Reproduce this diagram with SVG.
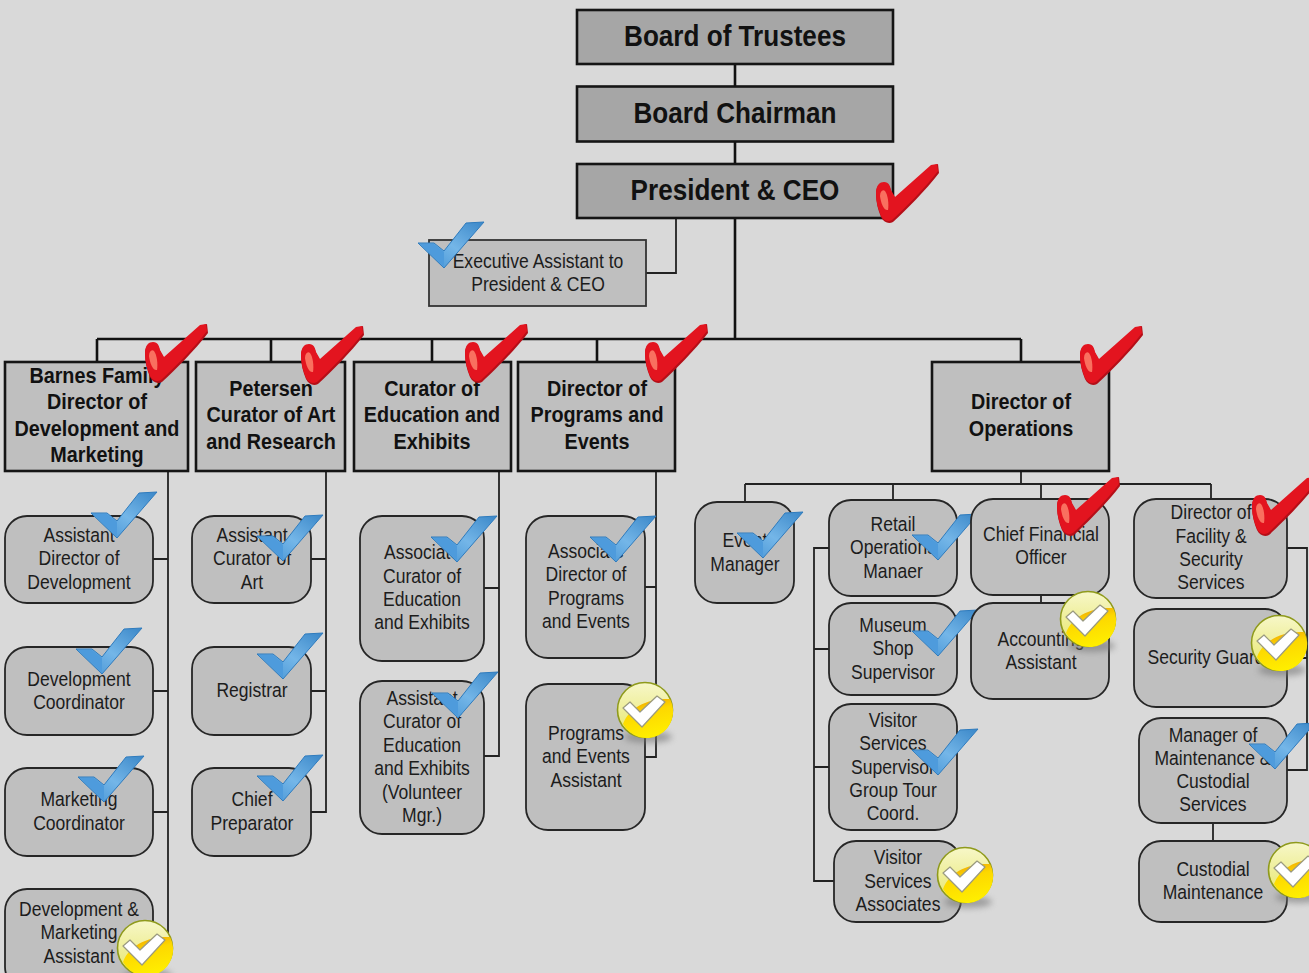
<svg xmlns="http://www.w3.org/2000/svg" width="1309" height="973" viewBox="0 0 1309 973">
<style>
text{font-family:"Liberation Sans",Arial,sans-serif;text-anchor:middle;fill:#111;transform-box:fill-box;transform-origin:center;transform:scaleX(.9)}
.top{fill:#a6a6a6;stroke:#151515;stroke-width:2.6}
.mid{fill:#bfbfbf;stroke:#151515;stroke-width:2.6}
.ex{fill:#bfbfbf;stroke:#333;stroke-width:1.8}
.rb{fill:#bfbfbf;stroke:#262626;stroke-width:1.8}
.t1{font-size:29px;font-weight:bold}
.t2{font-size:22px;font-weight:bold}
.t3{font-size:19.5px;fill:#1c1c1c}
.c1{fill:none;stroke:#111;stroke-width:2.6}
.c2{fill:none;stroke:#222;stroke-width:1.8}
</style>
<defs>
<linearGradient id="blueG" x1="0" y1="1" x2="1" y2="0"><stop offset="0" stop-color="#3f8fd2"/><stop offset=".5" stop-color="#74b6e8"/><stop offset="1" stop-color="#3a87c8"/></linearGradient>
<linearGradient id="yelG" x1=".3" y1="0" x2=".6" y2="1"><stop offset="0" stop-color="#efa400"/><stop offset=".35" stop-color="#fdd800"/><stop offset="1" stop-color="#fff000"/></linearGradient>
<linearGradient id="paleG" x1="0" y1="0" x2="0" y2="1"><stop offset="0" stop-color="#f7f7c8"/><stop offset="1" stop-color="#e6e66a"/></linearGradient>
<filter id="soft" x="-30%" y="-100%" width="160%" height="300%"><feGaussianBlur stdDeviation="3"/></filter>
<g id="red">
<path d="M1 30C1 22 5 19 9 19C14 19 15 23 16 27L20 34L56 2L63 0L64 9C51 26 31 46 18 58C14 60 9 59 6 53C3 46 1 38 1 30Z" fill="#b50f18"/>
<path d="M1 29C1 21 5 18 9 18C14 18 15 22 16 26L20 33L56 1L62 0L63 7C50 24 30 44 17 56C13 58 9 57 6 52C3 45 1 37 1 29Z" fill="#e3141f"/>
<path d="M5 32C5 27 8 25 10 27C13 31 14 40 13 46C9 47 6 40 5 32Z" fill="#f9705f"/>
</g>
<g id="blue">
<path d="M0 21H16L26 29L48 1L66 0L26 46Z" fill="url(#blueG)" stroke="#2f7bbd" stroke-width="1"/>
<path d="M2 22L26 45L26 30L16 22Z" fill="#4e9bdc"/>
</g>
<g id="yel">
<ellipse cx="3" cy="27" rx="24" ry="6" fill="#777" opacity=".6" filter="url(#soft)"/>
<circle r="27.500" fill="url(#paleG)" stroke="#8f9a1c" stroke-width="1.600"/>
<path d="M-22 14C-16 -2 2 -12 25 -11A26.500 26.500 0 0 1 -22 14Z" fill="url(#yelG)"/>
<path d="M-22 -2L-15 -8L-5 2L12 -14L20 -8L-3 17Z" fill="#fff" stroke="#9a9a80" stroke-width="1.200" stroke-linejoin="round"/>
</g>
</defs>
<rect width="1309" height="973" fill="#d9d9d9"/>

<g id="connectors">
<path class="c1" d="M735 64V86M735 141V164M735 218V339M97 339H1021M97 339V362M271 339V362M432 339V362M597 339V362M1021 339V362"/>
<path class="c2" d="M676 218V273H646"/>
<path class="c2" d="M168 471V950M153 559H168M153 691H168M153 812H168M153 935H168"/>
<path class="c2" d="M326 471V812H311M311 559H326M311 691H326"/>
<path class="c2" d="M499 471V756H484M484 588H499"/>
<path class="c2" d="M656 471V757H645M645 587H656"/>
<path class="c2" d="M1021 471V484M745 484H1211M745 484V502M893 484V500M1041 484V499M1211 484V499"/>
<path class="c2" d="M829 548H814V881H834M814 649H829M814 767H829"/>
<path class="c2" d="M1041 595V603M1213 823V841"/>
<path class="c2" d="M1287 548H1307V770H1287M1287 658H1307"/>
</g>

<g id="board-trustees"><rect class="top" x="577" y="10" width="316" height="54"/><text class="t1" x="735" y="46">Board of Trustees</text></g>
<g id="board-chairman"><rect class="top" x="577" y="86.500" width="316" height="55"/><text class="t1" x="735" y="123">Board Chairman</text></g>
<g id="president"><rect class="top" x="577" y="164" width="316" height="54"/><text class="t1" x="735" y="200">President &amp; CEO</text><use href="#red" x="875" y="164"/></g>
<g id="exec-assistant"><rect class="ex" x="429" y="240" width="217" height="66"/><text class="t3" x="538" y="268">Executive Assistant to</text><text class="t3" x="538" y="291">President &amp; CEO</text><use href="#blue" x="418" y="222"/></g>

<g id="barnes"><rect class="mid" x="5" y="362" width="183" height="109"/><text class="t2" x="97" y="383">Barnes Family</text><text class="t2" x="97" y="409">Director of</text><text class="t2" x="97" y="436">Development and</text><text class="t2" x="97" y="462">Marketing</text><use href="#red" x="144" y="324"/></g>
<g id="petersen"><rect class="mid" x="196" y="362" width="149" height="109"/><text class="t2" x="271" y="396">Petersen</text><text class="t2" x="271" y="422">Curator of Art</text><text class="t2" x="271" y="449">and Research</text><use href="#red" x="300" y="326"/></g>
<g id="curator-education"><rect class="mid" x="354" y="362" width="157" height="109"/><text class="t2" x="432" y="396">Curator of</text><text class="t2" x="432" y="422">Education and</text><text class="t2" x="432" y="449">Exhibits</text><use href="#red" x="464" y="324"/></g>
<g id="director-programs"><rect class="mid" x="518" y="362" width="157" height="109"/><text class="t2" x="597" y="396">Director of</text><text class="t2" x="597" y="422">Programs and</text><text class="t2" x="597" y="449">Events</text><use href="#red" x="644" y="324"/></g>
<g id="director-operations"><rect class="mid" x="932" y="362" width="177" height="109"/><text class="t2" x="1021" y="409">Director of</text><text class="t2" x="1021" y="436">Operations</text><use href="#red" x="1079" y="326"/></g>

<g id="asst-dir-dev"><rect class="rb" x="5" y="516" width="148" height="87" rx="22"/><text class="t3" x="79" y="542">Assistant</text><text class="t3" x="79" y="565">Director of</text><text class="t3" x="79" y="589">Development</text><use href="#blue" x="91" y="492"/></g>
<g id="dev-coord"><rect class="rb" x="5" y="647" width="148" height="88" rx="22"/><text class="t3" x="79" y="686">Development</text><text class="t3" x="79" y="709">Coordinator</text><use href="#blue" x="76" y="628"/></g>
<g id="mkt-coord"><rect class="rb" x="5" y="768" width="148" height="88" rx="22"/><text class="t3" x="79" y="806">Marketing</text><text class="t3" x="79" y="830">Coordinator</text><use href="#blue" x="78" y="756"/></g>
<g id="dev-mkt-asst"><rect class="rb" x="5" y="889" width="148" height="100" rx="22"/><text class="t3" x="79" y="916">Development &amp;</text><text class="t3" x="79" y="939">Marketing</text><text class="t3" x="79" y="963">Assistant</text><use href="#yel" x="145" y="948"/></g>

<g id="asst-curator-art"><rect class="rb" x="192" y="516" width="119" height="87" rx="22"/><text class="t3" x="252" y="542">Assistant</text><text class="t3" x="252" y="565">Curator of</text><text class="t3" x="252" y="589">Art</text><use href="#blue" x="257" y="515"/></g>
<g id="registrar"><rect class="rb" x="192" y="647" width="119" height="88" rx="22"/><text class="t3" x="252" y="697">Registrar</text><use href="#blue" x="257" y="633"/></g>
<g id="chief-preparator"><rect class="rb" x="192" y="768" width="119" height="88" rx="22"/><text class="t3" x="252" y="806">Chief</text><text class="t3" x="252" y="830">Preparator</text><use href="#blue" x="257" y="755"/></g>

<g id="assoc-curator"><rect class="rb" x="360" y="516" width="124" height="145" rx="22"/><text class="t3" x="422" y="559">Associate</text><text class="t3" x="422" y="583">Curator of</text><text class="t3" x="422" y="606">Education</text><text class="t3" x="422" y="629">and Exhibits</text><use href="#blue" x="431" y="516"/></g>
<g id="asst-curator-edu"><rect class="rb" x="360" y="681" width="124" height="153" rx="22"/><text class="t3" x="422" y="705">Assistant</text><text class="t3" x="422" y="728">Curator of</text><text class="t3" x="422" y="752">Education</text><text class="t3" x="422" y="775">and Exhibits</text><text class="t3" x="422" y="799">(Volunteer</text><text class="t3" x="422" y="822">Mgr.)</text><use href="#blue" x="432" y="672"/></g>

<g id="assoc-dir-programs"><rect class="rb" x="526" y="516" width="119" height="142" rx="22"/><text class="t3" x="586" y="558">Associate</text><text class="t3" x="586" y="581">Director of</text><text class="t3" x="586" y="605">Programs</text><text class="t3" x="586" y="628">and Events</text><use href="#blue" x="590" y="516"/></g>
<g id="programs-asst"><rect class="rb" x="526" y="684" width="119" height="146" rx="22"/><text class="t3" x="586" y="740">Programs</text><text class="t3" x="586" y="763">and Events</text><text class="t3" x="586" y="787">Assistant</text><use href="#yel" x="645" y="710"/></g>

<g id="event-manager"><rect class="rb" x="695" y="502" width="99" height="101" rx="22"/><text class="t3" x="745" y="547">Event</text><text class="t3" x="745" y="571">Manager</text><use href="#blue" x="737" y="512"/></g>
<g id="retail"><rect class="rb" x="829" y="500" width="128" height="96" rx="22"/><text class="t3" x="893" y="531">Retail</text><text class="t3" x="893" y="554">Operations</text><text class="t3" x="893" y="578">Manaer</text><use href="#blue" x="912" y="514"/></g>
<g id="museum-shop"><rect class="rb" x="829" y="603" width="128" height="92" rx="22"/><text class="t3" x="893" y="632">Museum</text><text class="t3" x="893" y="655">Shop</text><text class="t3" x="893" y="679">Supervisor</text><use href="#blue" x="912" y="610"/></g>
<g id="visitor-supervisor"><rect class="rb" x="829" y="704" width="128" height="126" rx="22"/><text class="t3" x="893" y="727">Visitor</text><text class="t3" x="893" y="750">Services</text><text class="t3" x="893" y="774">Supervisor</text><text class="t3" x="893" y="797">Group Tour</text><text class="t3" x="893" y="820">Coord.</text><use href="#blue" x="912" y="729"/></g>
<g id="visitor-associates"><rect class="rb" x="834" y="841" width="127" height="81" rx="22"/><text class="t3" x="898" y="864">Visitor</text><text class="t3" x="898" y="888">Services</text><text class="t3" x="898" y="911">Associates</text><use href="#yel" x="965" y="875"/></g>

<g id="cfo"><rect class="rb" x="971" y="499" width="138" height="96" rx="22"/><text class="t3" x="1041" y="541">Chief Financial</text><text class="t3" x="1041" y="564">Officer</text><use href="#red" x="1056" y="477"/></g>
<g id="accounting"><rect class="rb" x="971" y="603" width="138" height="96" rx="22"/><text class="t3" x="1041" y="646">Accounting</text><text class="t3" x="1041" y="669">Assistant</text><use href="#yel" x="1088" y="619"/></g>

<g id="dir-facility"><rect class="rb" x="1134" y="499" width="153" height="99" rx="22"/><text class="t3" x="1211" y="519">Director of</text><text class="t3" x="1211" y="543">Facility &amp;</text><text class="t3" x="1211" y="566">Security</text><text class="t3" x="1211" y="589">Services</text><use href="#red" x="1251" y="477"/></g>
<g id="security-guard"><rect class="rb" x="1134" y="609" width="153" height="98" rx="22"/><text class="t3" x="1206" y="664">Security Guard</text><use href="#yel" x="1279" y="643"/></g>
<g id="mgr-maintenance"><rect class="rb" x="1139" y="718" width="148" height="105" rx="22"/><text class="t3" x="1213" y="742">Manager of</text><text class="t3" x="1213" y="765">Maintenance &amp;</text><text class="t3" x="1213" y="788">Custodial</text><text class="t3" x="1213" y="811">Services</text><use href="#blue" x="1249" y="723"/></g>
<g id="custodial"><rect class="rb" x="1139" y="841" width="148" height="81" rx="22"/><text class="t3" x="1213" y="876">Custodial</text><text class="t3" x="1213" y="899">Maintenance</text><use href="#yel" x="1296" y="870"/></g>
</svg>
